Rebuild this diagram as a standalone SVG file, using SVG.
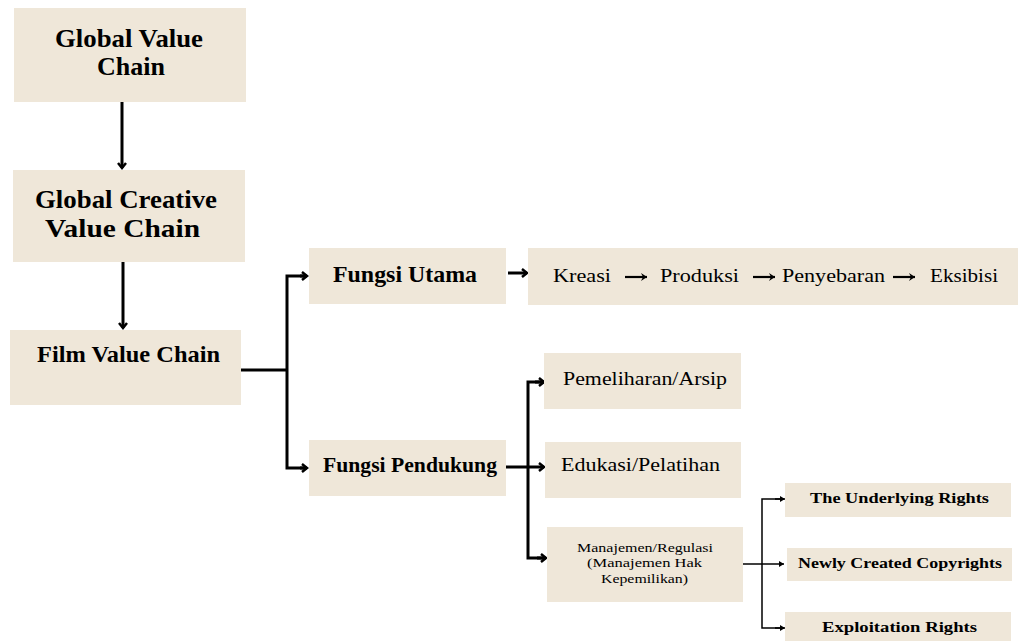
<svg xmlns="http://www.w3.org/2000/svg" width="1020" height="641" viewBox="0 0 1020 641">
<style>
.box{fill:#EFE7D9}
.t{font-family:"Liberation Serif","Times New Roman",serif;fill:#000}
.b{font-weight:bold}
.thick{fill:none;stroke:#000;stroke-width:3}
.mid{fill:none;stroke:#000;stroke-width:2.2}
.thin{fill:none;stroke:#000;stroke-width:1.5}
</style>
<defs>
<marker id="ah" markerWidth="10" markerHeight="10" refX="8" refY="5" orient="auto" markerUnits="userSpaceOnUse">
<path d="M3,1 L8,5 L3,9" fill="none" stroke="#000" stroke-width="2.5"/>
</marker>
<marker id="ahm" markerWidth="10" markerHeight="10" refX="8" refY="5" orient="auto" markerUnits="userSpaceOnUse">
<path d="M2,1 L8,5 L2,9 L4,5 Z" fill="#000"/>
</marker>
<marker id="ahs" markerWidth="6" markerHeight="6" refX="5" refY="3" orient="auto" markerUnits="userSpaceOnUse">
<path d="M0,0 L5,3 L0,6 Z" fill="#000"/>
</marker>
</defs>
<rect width="1020" height="641" fill="#fff"/>
<g id="connectors">
<line class="thick" x1="122" y1="102" x2="122" y2="168" marker-end="url(#ah)"/>
<line class="thick" x1="123" y1="262" x2="123" y2="328" marker-end="url(#ah)"/>
<line class="thick" x1="241" y1="370" x2="287" y2="370"/>
<polyline class="thick" points="306,276 287,276 287,468 306,468"/>
<line class="thick" x1="300" y1="276" x2="307" y2="276" marker-end="url(#ah)"/>
<line class="thick" x1="300" y1="468" x2="307" y2="468" marker-end="url(#ah)"/>
<line class="thick" x1="508" y1="273" x2="527" y2="273" marker-end="url(#ah)"/>
<line class="thick" x1="506" y1="467" x2="544" y2="467" marker-end="url(#ah)"/>
<polyline class="thick" points="543,382 528,382 528,558 545,558"/>
<line class="thick" x1="535" y1="382" x2="544" y2="382" marker-end="url(#ah)"/>
<line class="thick" x1="537" y1="558" x2="546" y2="558" marker-end="url(#ah)"/>
<line class="thin" x1="743" y1="564" x2="784" y2="564" marker-end="url(#ahs)"/>
<polyline class="thin" points="784,499 762,499 762,628 784,628"/>
<line class="thin" x1="775" y1="499" x2="785" y2="499" marker-end="url(#ahs)"/>
<line class="thin" x1="775" y1="628" x2="785" y2="628" marker-end="url(#ahs)"/>
</g>
<g id="global-value-chain">
<rect class="box" x="14" y="8" width="232" height="94"/>
<text class="t b" x="55" y="47" font-size="26" textLength="148" lengthAdjust="spacingAndGlyphs">Global Value</text>
<text class="t b" x="97" y="75" font-size="26" textLength="68" lengthAdjust="spacingAndGlyphs">Chain</text>
</g>
<g id="global-creative-value-chain">
<rect class="box" x="13" y="170" width="232" height="92"/>
<text class="t b" x="35" y="208" font-size="26" textLength="182" lengthAdjust="spacingAndGlyphs">Global Creative</text>
<text class="t b" x="45" y="237" font-size="26" textLength="155" lengthAdjust="spacingAndGlyphs">Value Chain</text>
</g>
<g id="film-value-chain">
<rect class="box" x="10" y="330" width="231" height="75"/>
<text class="t b" x="37" y="362" font-size="24" textLength="183" lengthAdjust="spacingAndGlyphs">Film Value Chain</text>
</g>
<g id="fungsi-utama">
<rect class="box" x="309" y="248" width="197" height="56"/>
<text class="t b" x="333" y="282" font-size="24" textLength="144" lengthAdjust="spacingAndGlyphs">Fungsi Utama</text>
</g>
<g id="fungsi-pendukung">
<rect class="box" x="309" y="440" width="197" height="56"/>
<text class="t b" x="323" y="472" font-size="22" textLength="174" lengthAdjust="spacingAndGlyphs">Fungsi Pendukung</text>
</g>
<g id="fungsi-utama-chain">
<rect class="box" x="528" y="248" width="490" height="57"/>
<text class="t" x="553" y="282" font-size="19" textLength="58" lengthAdjust="spacingAndGlyphs">Kreasi</text>
<line class="mid" x1="625" y1="277" x2="647" y2="277" marker-end="url(#ahm)"/>
<text class="t" x="660" y="282" font-size="19" textLength="79" lengthAdjust="spacingAndGlyphs">Produksi</text>
<line class="mid" x1="753" y1="277" x2="775" y2="277" marker-end="url(#ahm)"/>
<text class="t" x="782" y="282" font-size="19" textLength="103" lengthAdjust="spacingAndGlyphs">Penyebaran</text>
<line class="mid" x1="893" y1="277" x2="915" y2="277" marker-end="url(#ahm)"/>
<text class="t" x="930" y="282" font-size="19" textLength="68" lengthAdjust="spacingAndGlyphs">Eksibisi</text>
</g>
<g id="pemeliharaan">
<rect class="box" x="544" y="353" width="197" height="56"/>
<text class="t" x="563" y="385" font-size="18" textLength="164" lengthAdjust="spacingAndGlyphs">Pemeliharan/Arsip</text>
</g>
<g id="edukasi">
<rect class="box" x="545" y="442" width="196" height="56"/>
<text class="t" x="561" y="471" font-size="19" textLength="159" lengthAdjust="spacingAndGlyphs">Edukasi/Pelatihan</text>
</g>
<g id="manajemen">
<rect class="box" x="547" y="527" width="196" height="75"/>
<text class="t" x="577" y="552" font-size="13" textLength="136" lengthAdjust="spacingAndGlyphs">Manajemen/Regulasi</text>
<text class="t" x="587" y="567" font-size="13" textLength="115" lengthAdjust="spacingAndGlyphs">(Manajemen Hak</text>
<text class="t" x="601" y="583" font-size="13" textLength="87" lengthAdjust="spacingAndGlyphs">Kepemilikan)</text>
</g>
<g id="underlying-rights">
<rect class="box" x="785" y="483" width="226" height="34"/>
<text class="t b" x="810" y="503" font-size="15" textLength="179" lengthAdjust="spacingAndGlyphs">The Underlying Rights</text>
</g>
<g id="newly-created-copyrights">
<rect class="box" x="787" y="548" width="225" height="33"/>
<text class="t b" x="798" y="568" font-size="15" textLength="204" lengthAdjust="spacingAndGlyphs">Newly Created Copyrights</text>
</g>
<g id="exploitation-rights">
<rect class="box" x="785" y="612" width="226" height="29"/>
<text class="t b" x="822" y="632" font-size="15" textLength="155" lengthAdjust="spacingAndGlyphs">Exploitation Rights</text>
</g>
</svg>
